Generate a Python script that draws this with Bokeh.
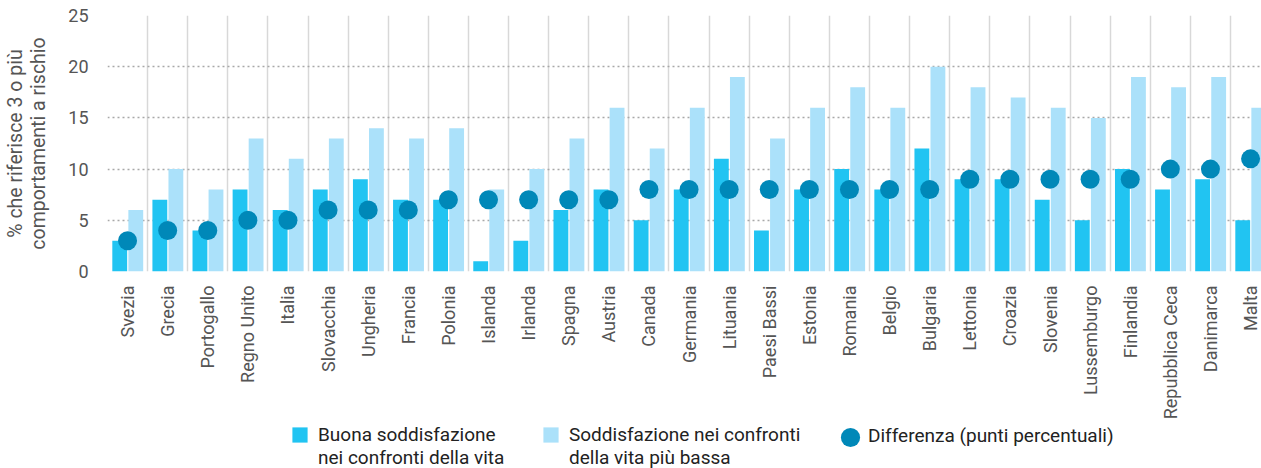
import math
import numpy as np
from bokeh.plotting import figure
from bokeh.layouts import column
from bokeh.models import Range1d, FixedTicker, Legend, LegendItem, ColumnDataSource
from bokeh.embed import file_html
from bokeh.resources import INLINE

countries = ["Svezia", "Grecia", "Portogallo", "Regno Unito", "Italia", "Slovacchia",
             "Ungheria", "Francia", "Polonia", "Islanda", "Irlanda", "Spagna", "Austria",
             "Canada", "Germania", "Lituania", "Paesi Bassi", "Estonia", "Romania",
             "Belgio", "Bulgaria", "Lettonia", "Croazia", "Slovenia", "Lussemburgo",
             "Finlandia", "Repubblica Ceca", "Danimarca", "Malta"]
buona = [3, 7, 4, 8, 6, 8, 9, 7, 7, 1, 3, 6, 8, 5, 8, 11, 4, 8, 10, 8, 12, 9, 9, 7, 5, 10, 8, 9, 5]
bassa = [6, 10, 8, 13, 11, 13, 14, 13, 14, 8, 10, 13, 16, 12, 16, 19, 13, 16, 18, 16, 20, 18, 17, 16, 15, 19, 18, 19, 16]
differenza = [3, 4, 4, 5, 5, 6, 6, 6, 7, 7, 7, 7, 7, 8, 8, 8, 8, 8, 8, 8, 8, 9, 9, 9, 9, 9, 10, 10, 11]
y_ticks = [0, 5, 10, 15, 20, 25]
label_buona = ["Buona soddisfazione", "nei confronti della vita"]
label_bassa = ["Soddisfazione nei confronti", "della vita più bassa"]
label_diff = "Differenza (punti percentuali)"

C_DARK = "#21c4f2"
C_LIGHT = "#abe1fa"
C_DOT = "#0088b8"
TXT = "#555555"
FONT = "Roboto"

n = len(countries)
pos = np.arange(n)
src = ColumnDataSource(dict(
    x=pos, xb=pos - 0.195, xl=pos + 0.205,
    buona=buona, bassa=bassa, diff=differenza,
))

W = 1261
LEFT, TOP, FRAME_H, BOTTOM = 107, 15, 256, 152
H_MAIN = TOP + FRAME_H + BOTTOM
H_LEG = 468 - H_MAIN
frame_w = W - LEFT
cat_px = 40.107

p = figure(width=W, height=H_MAIN, output_backend="svg", toolbar_location=None,
           x_range=Range1d(-0.5, -0.5 + frame_w / cat_px), y_range=Range1d(0, 25),
           min_border_left=LEFT, min_border_right=0, min_border_top=TOP,
           min_border_bottom=BOTTOM)
p.outline_line_color = None

# grids
p.ygrid.ticker = FixedTicker(ticks=y_ticks)
p.ygrid.grid_line_color = "#a8a8a8"
p.ygrid.grid_line_dash = "2 3"
p.ygrid.grid_line_width = 1.3
p.xgrid.ticker = FixedTicker(ticks=[k - 0.5 for k in range(n + 1)])
p.xgrid.grid_line_color = "#d8d8d8"
p.xgrid.grid_line_width = 1.5

p.vbar(x="xb", top="buona", width=0.37, bottom=0, source=src,
       fill_color=C_DARK, line_color=None)
p.vbar(x="xl", top="bassa", width=0.37, bottom=0, source=src,
       fill_color=C_LIGHT, line_color=None)
p.scatter(x="x", y="diff", source=src, size=19, marker="circle",
          fill_color=C_DOT, line_color=None)

# y axis
ya = p.yaxis[0]
ya.ticker = FixedTicker(ticks=y_ticks)
ya.axis_line_color = None
ya.major_tick_line_color = None
ya.major_tick_out = 0
ya.major_tick_in = 0
ya.minor_tick_line_color = None
ya.major_label_standoff = 19
ya.major_label_text_font = FONT
ya.major_label_text_font_size = "18px"
ya.major_label_text_color = TXT
ya.axis_label = "% che riferisce 3 o più\ncomportamenti a rischio"
ya.axis_label_text_font = FONT
ya.axis_label_text_font_style = "normal"
ya.axis_label_text_font_size = "19.5px"
ya.axis_label_text_line_height = 1.0
ya.axis_label_text_color = TXT
ya.axis_label_standoff = 15

# x axis
xa = p.xaxis[0]
xa.ticker = FixedTicker(ticks=list(pos))
xa.major_label_overrides = {int(i): c for i, c in zip(pos, countries)}
xa.major_label_orientation = math.pi / 2
xa.axis_line_color = None
xa.major_tick_line_color = None
xa.major_tick_out = 0
xa.major_tick_in = 0
xa.minor_tick_line_color = None
xa.major_label_standoff = 14
xa.major_label_text_font = FONT
xa.major_label_text_font_size = "18px"
xa.major_label_text_color = TXT

# legend strip (its renderers draw the same data, out of its view)
q = figure(width=W, height=H_LEG, output_backend="svg", toolbar_location=None,
           x_range=Range1d(0, 1), y_range=Range1d(100, 101),
           x_axis_type=None, y_axis_type=None,
           min_border_left=0, min_border_right=0, min_border_top=0, min_border_bottom=0)
q.outline_line_color = None
q.xgrid.visible = False
q.ygrid.visible = False
lb = q.vbar(x="xb", top="buona", width=0.37, bottom=0, source=src,
            fill_color=C_DARK, line_color=None)
ll = q.vbar(x="xl", top="bassa", width=0.37, bottom=0, source=src,
            fill_color=C_LIGHT, line_color=None)
ld = q.scatter(x="x", y="diff", source=src, size=19, marker="circle",
               fill_color=C_DOT, line_color=None)
lnone = q.vbar(x="x", top="diff", width=0.1, bottom=0, source=src,
               fill_color=None, line_color=None)

OFF = LEFT  # legend strip frame is aligned with the main frame


def add_legend(label, rend, x, vy, gw, gh, standoff):
    lg = Legend(items=[LegendItem(label=label, renderers=[rend], index=0)],
                location=(x - OFF, vy), orientation="horizontal",
                glyph_width=gw, glyph_height=gh, label_standoff=standoff,
                padding=0, margin=0, spacing=0,
                border_line_color=None, background_fill_alpha=0,
                label_text_font=FONT, label_text_font_size="19px",
                label_text_line_height=1.0,
                label_text_color="#222222")
    q.add_layout(lg, "center")


add_legend(label_buona[0], lb, 290, 22, 19, 19, 9)
add_legend(label_buona[1], lnone, 290, -1, 19, 19, 9)
add_legend(label_bassa[0], ll, 541, 22, 19, 19, 9)
add_legend(label_bassa[1], lnone, 541, -1, 19, 19, 9)
add_legend(" ", ld, 826, 7, 48, 48, 0)
add_legend(label_diff, lnone, 867, 21, 1, 19, 0)

open("out.html", "w").write(file_html(column(p, q), INLINE))
